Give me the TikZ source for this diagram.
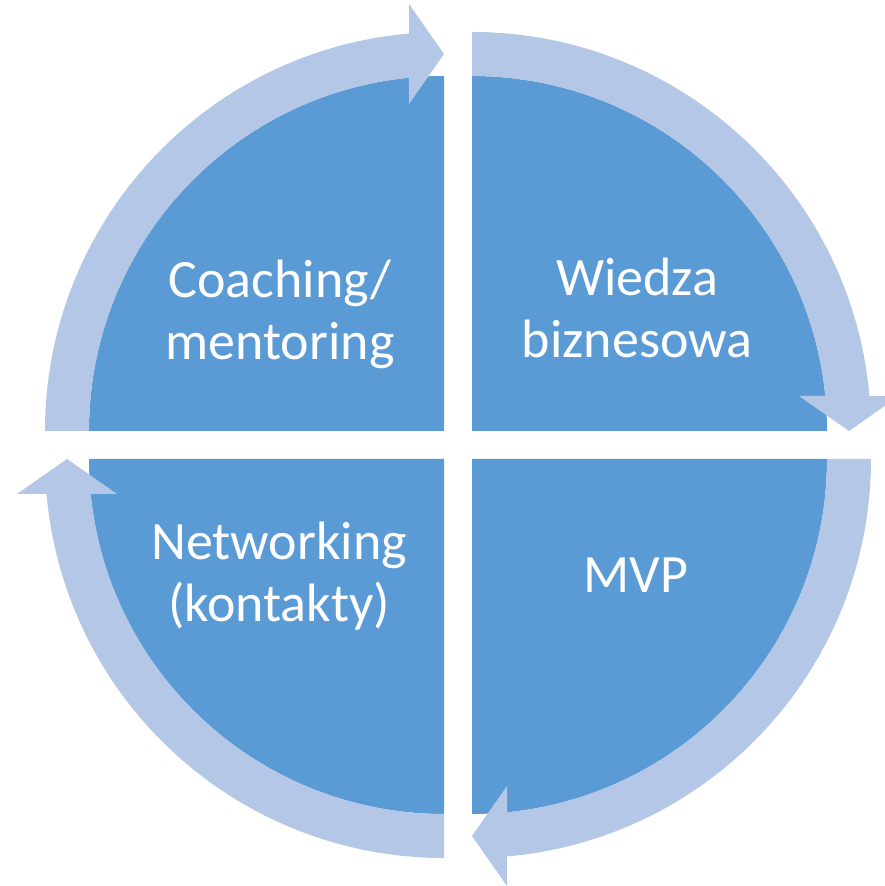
\documentclass[tikz,border=0pt]{standalone}
\usepackage{fontspec}
\setmainfont{Carlito}
\usetikzlibrary{calc}
\definecolor{quad}{HTML}{5B9BD5}
\definecolor{ring}{HTML}{B4C7E7}
\tikzset{
  quadfill/.style={fill=quad},
  ringfill/.style={fill=ring},
  lbl/.style={text=white, font=\fontsize{54}{62}\selectfont, align=center, inner sep=0pt, anchor=base}
}

\begin{document}
\begin{tikzpicture}[x=1pt,y=1pt]
  \useasboundingbox (0,0) rectangle (884,886);
  \coordinate (TL) at (444,455);
  \coordinate (TR) at (472,455);
  \coordinate (BR) at (472,427);
  \coordinate (BL) at (444,427);
  % quarter disks
  \foreach \c/\a in {TL/90, TR/0, BR/-90, BL/180}
    \fill[quadfill] (\c) -- ++(\a:355) arc[start angle=\a, end angle=\a+90, radius=355] -- cycle;
  % curved arrows round the disks
  \foreach \c/\r in {TL/0, TR/-90, BR/180, BL/90}
    \fill[ringfill, shift={(\c)}, rotate=\r]
      (180:399) arc[start angle=180, end angle=95.03, radius=399]
      -- (-35,427) -- (0,377) -- (-35,327)
      -- (95.66:355) arc[start angle=95.66, end angle=180, radius=355] -- cycle;
  % base is the baseline of the last line
  \node[lbl] (coach) at (280,526) {Coaching/\\mentoring};
  \node[lbl] (wiedza) at (637,528) {Wiedza\\biznesowa};
  \node[lbl] (network) at (279,264) {Networking\\(kontakty)};
  \node[lbl] (mvp) at (636,293) {MVP};
\end{tikzpicture}
\end{document}
